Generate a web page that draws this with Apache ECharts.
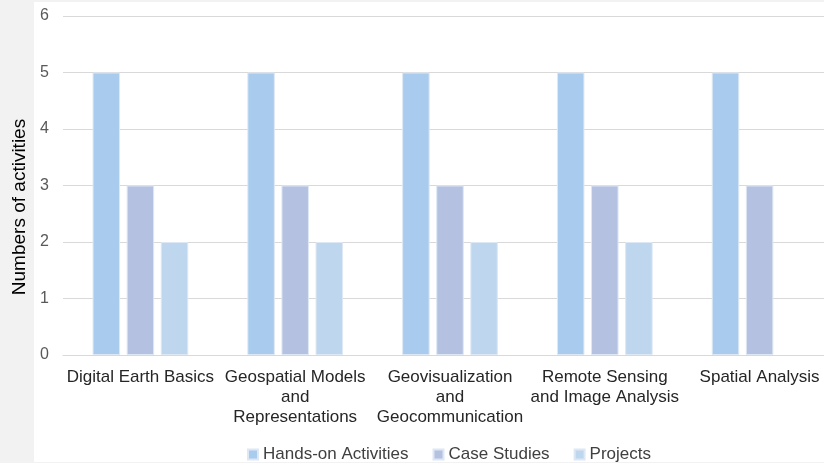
<!DOCTYPE html>
<html>
<head>
<meta charset="utf-8">
<script src="https://cdn.jsdelivr.net/npm/echarts@6/dist/echarts.min.js"></script>
<style>
html,body{margin:0;padding:0;background:#f2f2f2;overflow:hidden;width:824px;height:463px;}
#c{width:837px;height:463px;}
</style>
</head>
<body>
<div id="c"></div>
<script>
var categories = [
  'Digital Earth Basics',
  'Geospatial Models\nand\nRepresentations',
  'Geovisualization\nand\nGeocommunication',
  'Remote Sensing\nand Image Analysis',
  'Spatial Analysis'
];
var seriesNames = ['Hands-on Activities', 'Case Studies', 'Projects'];
var handsOn = [5, 5, 5, 5, 5];
var caseStudies = [3, 3, 3, 3, 3];
var projects = [2, 2, 2, 2, null];
var yTicks = [0, 1, 2, 3, 4, 5, 6];
var colors = ['#a9cbee', '#b5c1e0', '#bfd7ee'];

var chart = echarts.init(document.getElementById('c'), null, {renderer: 'canvas'});
var font = 'Liberation Sans, Arial, sans-serif';
function bar(name, data, color) {
  return {
    name: name, type: 'bar', data: data, barWidth: 27.5, barGap: '24%',
    itemStyle: {color: color, borderColor: '#dde8f4', borderWidth: 1},
    emphasis: {disabled: true}
  };
}
chart.setOption({
  backgroundColor: '#f2f2f2',
  animation: false,
  textStyle: {fontFamily: font},
  graphic: [
    {type: 'rect', z: -10, silent: true, shape: {x: 34, y: 2, width: 803, height: 460}, style: {fill: '#ffffff'}},
    {type: 'text', x: 20, y: 207, rotation: Math.PI / 2,
     style: {text: 'Numbers of activities', fontSize: 19, fontFamily: font, fill: '#000000', textAlign: 'center', textVerticalAlign: 'middle'}}
  ],
  grid: {left: 63, top: 16, right: 0, bottom: 108, containLabel: false},
  legend: {
    data: seriesNames, left: 242, top: 441, itemWidth: 10, itemHeight: 10, itemGap: 24,
    icon: 'rect',
    textStyle: {fontSize: 17, color: '#404040', fontFamily: font}
  },
  xAxis: {
    type: 'category', data: categories,
    axisLine: {lineStyle: {color: '#d9d9d9', width: 1}},
    axisTick: {show: false},
    axisLabel: {interval: 0, fontSize: 17, color: '#262626', lineHeight: 20, margin: 12, fontFamily: font}
  },
  yAxis: {
    type: 'value', min: yTicks[0], max: yTicks[yTicks.length - 1], interval: 1,
    axisLine: {show: false}, axisTick: {show: false},
    splitLine: {lineStyle: {color: '#d9d9d9', width: 1}},
    axisLabel: {fontSize: 16, color: '#595959', margin: 14, fontFamily: font}
  },
  series: [
    bar(seriesNames[0], handsOn, colors[0]),
    bar(seriesNames[1], caseStudies, colors[1]),
    bar(seriesNames[2], projects, colors[2])
  ]
});
</script>
</body>
</html>
